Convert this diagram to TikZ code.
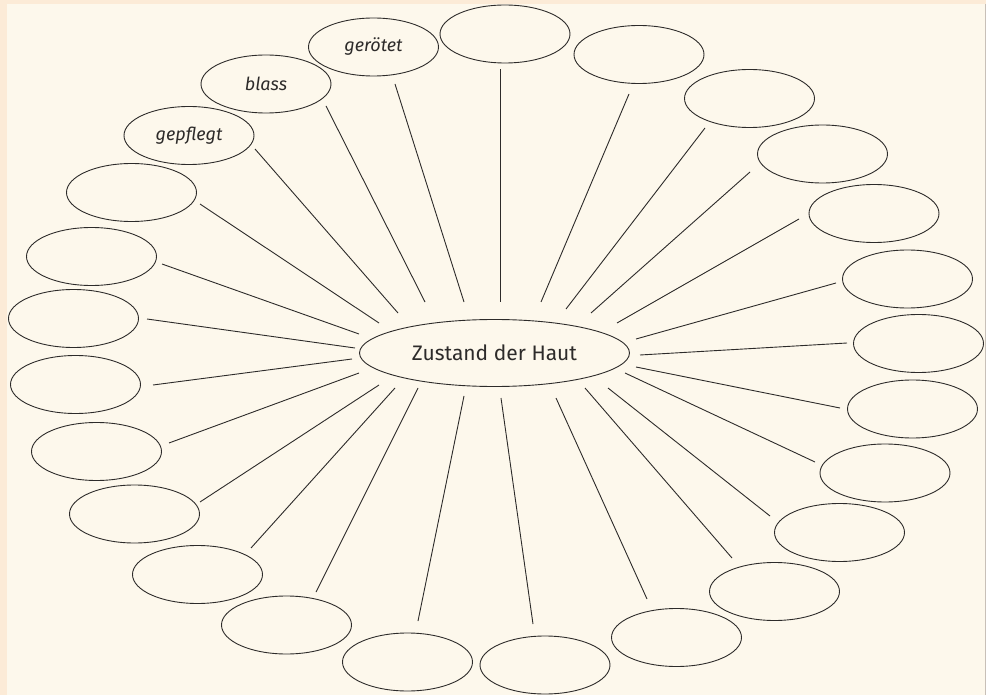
\documentclass[tikz,border=0pt]{standalone}
\usepackage{fontspec}
\setmainfont{Fira Sans}
\usetikzlibrary{shapes.geometric}
\definecolor{frameorange}{RGB}{252,235,215}
\definecolor{cream}{RGB}{253,248,236}
\definecolor{edgegrey}{RGB}{200,192,184}
\definecolor{ink}{RGB}{45,43,42}
\tikzset{
  blob/.style={ellipse, draw=ink, line width=0.9pt, minimum width=130pt, minimum height=58pt, inner sep=0pt, text=ink, font=\fontsize{18}{20}\selectfont\itshape},
  hub/.style={ellipse, draw=ink, line width=0.9pt, minimum width=270pt, minimum height=67pt, inner sep=0pt, text=ink, font=\fontsize{21}{24}\selectfont},
  spoke/.style={draw=ink, line width=0.9pt}
}
\begin{document}
\begin{tikzpicture}[x=1pt,y=-1pt]
\useasboundingbox (0,0) rectangle (986,695);
\fill[frameorange] (0,0) rectangle (986,695);
\fill[cream] (7.3,4) rectangle (985,695);
\draw[edgegrey, line width=1pt] (985.5,4) -- (985.5,695);

\node[hub] (hub) at (494.5,353) {\raisebox{-1pt}{Zustand der Haut}};

\node[blob] (v) at (505,34) {};
\node[blob] (s) at (639,54.5) {};
\node[blob] (t) at (749.5,98.5) {};
\node[blob] (u) at (822.5,154) {};
\node[blob] (p) at (874,213.5) {};
\node[blob] (q) at (907.5,279) {};
\node[blob] (r) at (918.5,343.5) {};
\node[blob] (o) at (912.5,409) {};
\node[blob] (n) at (885,473) {};
\node[blob] (m) at (839.5,532.5) {};
\node[blob] (l) at (774.5,591.5) {};
\node[blob] (k) at (676.5,637.5) {};
\node[blob] (j) at (545,665) {};
\node[blob] (i) at (407.5,662) {};
\node[blob] (h) at (286.5,625) {};
\node[blob] (g) at (197.5,574.5) {};
\node[blob] (f) at (134.5,514) {};
\node[blob] (e) at (96.5,451.5) {};
\node[blob] (d) at (75.5,384.5) {};
\node[blob] (c) at (73.5,318.5) {};
\node[blob] (b) at (91.5,256.5) {};
\node[blob] (a) at (131.5,192.5) {};
\node[blob] (gepflegt) at (189,135.5) {gepflegt};
\node[blob] (blass) at (266,84) {blass};
\node[blob] (geroetet) at (373.5,47) {gerötet};

\foreach \n/\sx/\sy/\ex/\ey in {
  v/500.5/302/500.5/69, s/541/302/629/94, t/566/309/705/128, u/591/313/750/172,
  p/617/323/799/219, q/636/339/836/283, r/640/355/847/343, o/636/367/840/408,
  n/625/373/815/462, m/608/388/770/516, l/585/388/732/558, k/556/398/647/599,
  j/501/398/533/624, i/464/396/418/621, h/418/388/316/592, g/395/388/251/548,
  f/379/385/200/502, e/359/373/169/443, d/352/359/153/385, c/355/348/147/319,
  b/359/334/162/264, a/379/323/200/204, gepflegt/398/313/255/149,
  blass/425/302/326/106, geroetet/464/302/395/84}{
  \coordinate (\n-in) at (\sx,\sy);
  \coordinate (\n-out) at (\ex,\ey);
  \draw[spoke] (\n-in) -- (\n-out);
}
\end{tikzpicture}
\end{document}
